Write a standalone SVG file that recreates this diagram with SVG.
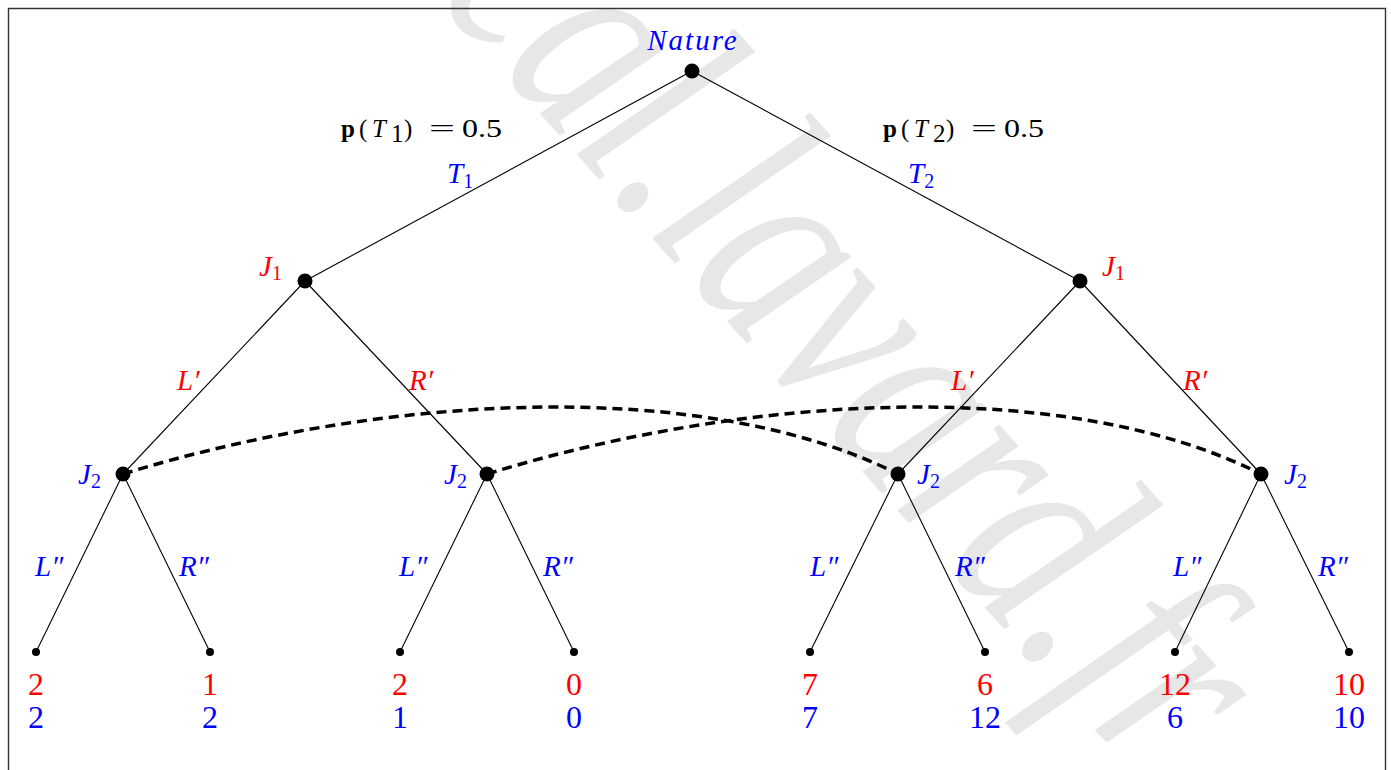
<svg xmlns="http://www.w3.org/2000/svg" width="1391" height="770" viewBox="0 0 1391 770">
<style>
.wm{font-family:"Liberation Serif",serif;font-style:italic;font-size:238px;fill:#e7e7e7}
.t{font-family:"Liberation Serif",serif;font-size:29px}
.it{font-style:italic}
.sub{font-size:20px;font-style:normal}
.blue{fill:#0000ff}
.red{fill:#ff0000}
.pay{font-family:"Liberation Serif",serif;font-size:32px;text-anchor:middle}
.edge{stroke:#000;stroke-width:1.1;fill:none}
.info{stroke:#000;stroke-width:3.5;stroke-dasharray:10 6;fill:none}
.node{fill:#000}
.pl{font-family:"Liberation Serif",serif;font-size:25px;fill:#000}
</style>
<rect width="1391" height="770" fill="#fff"/>
<text class="wm" transform="translate(618,182) rotate(48) scale(0.9,1.22)" x="-291" y="10">cal.lavard.fr</text>
<path d="M8.5 780 V8.5 H1385.5 V780" fill="none" stroke="#333" stroke-width="1.4"/>
<g id="connectors">
<line class="edge" x1="692" y1="71" x2="305" y2="281"/>
<line class="edge" x1="692" y1="71" x2="1080" y2="281"/>
<line class="edge" x1="305" y1="281" x2="123" y2="474"/>
<line class="edge" x1="305" y1="281" x2="487" y2="474"/>
<line class="edge" x1="1080" y1="281" x2="898" y2="474"/>
<line class="edge" x1="1080" y1="281" x2="1261" y2="474"/>
<line class="edge" x1="123" y1="474" x2="36" y2="652"/>
<line class="edge" x1="123" y1="474" x2="210" y2="652"/>
<line class="edge" x1="487" y1="474" x2="400" y2="652"/>
<line class="edge" x1="487" y1="474" x2="574" y2="652"/>
<line class="edge" x1="898" y1="474" x2="810" y2="652"/>
<line class="edge" x1="898" y1="474" x2="985" y2="652"/>
<line class="edge" x1="1261" y1="474" x2="1175" y2="652"/>
<line class="edge" x1="1261" y1="474" x2="1349" y2="652"/>
<path class="info" d="M123 474 C380 395 700 375 898 474"/>
<path class="info" d="M487 474 C744 395 1064 375 1261 474"/>
</g>
<g id="nature">
<circle class="node" cx="692" cy="71" r="7.5"/>
<text class="t it blue" x="693" y="50" text-anchor="middle" letter-spacing="2">Nature</text>
</g>
<g id="prob1">
<text class="pl" x="341" y="137" font-weight="bold">p</text>
<text class="pl" x="359" y="137">(</text>
<text class="pl" x="372" y="137" font-style="italic" font-size="27">T</text>
<text class="pl" x="391" y="142" font-size="17">1</text>
<text class="pl" x="404" y="137">)</text>
<text class="pl" x="429" y="137" textLength="26" lengthAdjust="spacingAndGlyphs">=</text>
<text class="pl" x="462" y="137" textLength="40" lengthAdjust="spacingAndGlyphs">0.5</text>
</g>
<g id="prob2">
<text class="pl" x="883" y="137" font-weight="bold">p</text>
<text class="pl" x="901" y="137">(</text>
<text class="pl" x="914" y="137" font-style="italic" font-size="27">T</text>
<text class="pl" x="933" y="142" font-size="17">2</text>
<text class="pl" x="946" y="137">)</text>
<text class="pl" x="971" y="137" textLength="26" lengthAdjust="spacingAndGlyphs">=</text>
<text class="pl" x="1004" y="137" textLength="40" lengthAdjust="spacingAndGlyphs">0.5</text>
</g>
<g id="edge-labels">
<text class="t it blue" x="447" y="183">T<tspan class="sub" dy="5">1</tspan></text>
<text class="t it blue" x="908" y="183">T<tspan class="sub" dy="5">2</tspan></text>
<text class="t it red" x="177" y="390">L′</text>
<text class="t it red" x="409" y="390">R′</text>
<text class="t it red" x="951" y="390">L′</text>
<text class="t it red" x="1183" y="390">R′</text>
<text class="t it blue" x="35" y="576">L″</text>
<text class="t it blue" x="179" y="576">R″</text>
<text class="t it blue" x="399" y="576">L″</text>
<text class="t it blue" x="543" y="576">R″</text>
<text class="t it blue" x="810" y="576">L″</text>
<text class="t it blue" x="955" y="576">R″</text>
<text class="t it blue" x="1173" y="576">L″</text>
<text class="t it blue" x="1318" y="576">R″</text>
</g>
<g id="j1-left">
<circle class="node" cx="305" cy="281" r="7.5"/>
<text class="t it red" x="259" y="276">J<tspan class="sub" dy="4">1</tspan></text>
</g>
<g id="j1-right">
<circle class="node" cx="1080" cy="281" r="7.5"/>
<text class="t it red" x="1102" y="276">J<tspan class="sub" dy="4">1</tspan></text>
</g>
<g id="j2-a">
<circle class="node" cx="123" cy="474" r="7.5"/>
<text class="t it blue" x="78" y="484">J<tspan class="sub" dy="4">2</tspan></text>
</g>
<g id="j2-b">
<circle class="node" cx="487" cy="474" r="7.5"/>
<text class="t it blue" x="444" y="484">J<tspan class="sub" dy="4">2</tspan></text>
</g>
<g id="j2-c">
<circle class="node" cx="898" cy="474" r="7.5"/>
<text class="t it blue" x="917" y="484">J<tspan class="sub" dy="4">2</tspan></text>
</g>
<g id="j2-d">
<circle class="node" cx="1261" cy="474" r="7.5"/>
<text class="t it blue" x="1284" y="484">J<tspan class="sub" dy="4">2</tspan></text>
</g>
<g id="leaf1"><circle class="node" cx="36" cy="652" r="4"/><text class="pay red" x="36" y="695">2</text><text class="pay blue" x="36" y="728">2</text></g>
<g id="leaf2"><circle class="node" cx="210" cy="652" r="4"/><text class="pay red" x="210" y="695">1</text><text class="pay blue" x="210" y="728">2</text></g>
<g id="leaf3"><circle class="node" cx="400" cy="652" r="4"/><text class="pay red" x="400" y="695">2</text><text class="pay blue" x="400" y="728">1</text></g>
<g id="leaf4"><circle class="node" cx="574" cy="652" r="4"/><text class="pay red" x="574" y="695">0</text><text class="pay blue" x="574" y="728">0</text></g>
<g id="leaf5"><circle class="node" cx="810" cy="652" r="4"/><text class="pay red" x="810" y="695">7</text><text class="pay blue" x="810" y="728">7</text></g>
<g id="leaf6"><circle class="node" cx="985" cy="652" r="4"/><text class="pay red" x="985" y="695">6</text><text class="pay blue" x="985" y="728">12</text></g>
<g id="leaf7"><circle class="node" cx="1175" cy="652" r="4"/><text class="pay red" x="1175" y="695">12</text><text class="pay blue" x="1175" y="728">6</text></g>
<g id="leaf8"><circle class="node" cx="1349" cy="652" r="4"/><text class="pay red" x="1349" y="695">10</text><text class="pay blue" x="1349" y="728">10</text></g>
</svg>
